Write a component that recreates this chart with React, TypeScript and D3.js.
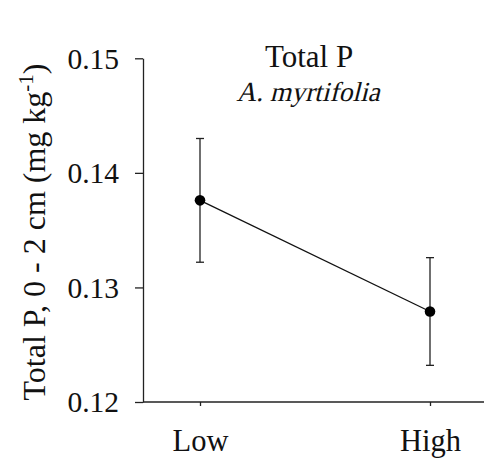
import * as d3 from 'd3';
import React, { useEffect, useRef } from 'react';

// data
const categories = ['Low', 'High'];
const means = [0.1376, 0.1279];
const upper = [0.1430, 0.1326];
const lower = [0.1322, 0.1232];
const yTicks = [0.12, 0.13, 0.14, 0.15];

const W = 484, H = 459;
const FONT = '"Liberation Serif", "Times New Roman", serif';

export default function App() {
  const ref = useRef<SVGSVGElement>(null);

  useEffect(() => {
    const svg = d3.select(ref.current);
    svg.selectAll('*').remove();

    const axisX0 = 143, axisBottom = 402, axisTop = 58.3;

    const x = d3.scalePoint<string>().domain(categories).range([200, 430]);
    const y = d3.scaleLinear().domain([0.12, 0.15]).range([axisBottom, axisTop]);

    const data = categories.map((c, i) => ({ c, m: means[i], hi: upper[i], lo: lower[i] }));

    // y axis
    const yAxis = d3.axisLeft(y).tickValues(yTicks).tickSize(8).tickSizeOuter(0)
      .tickFormat(d3.format('.2f'));
    const gy = svg.append('g').attr('transform', `translate(${axisX0},0)`).call(yAxis);
    gy.select('.domain').attr('stroke', '#222').attr('stroke-width', 1.3);
    gy.selectAll('.tick line').attr('stroke', '#222').attr('stroke-width', 1.3);
    gy.selectAll('.tick text')
      .attr('font-family', FONT).attr('font-size', 29.5).attr('fill', '#111')
      .attr('x', -24).attr('dy', '0.33em');

    // x axis (line runs to the edge)
    svg.append('line')
      .attr('x1', axisX0).attr('x2', W)
      .attr('y1', axisBottom).attr('y2', axisBottom)
      .attr('stroke', '#222').attr('stroke-width', 1.3);
    const xAxis = d3.axisBottom(x).tickSize(4).tickSizeOuter(0);
    const gx = svg.append('g').attr('transform', `translate(0,${axisBottom})`).call(xAxis);
    gx.select('.domain').remove();
    gx.selectAll('.tick line').attr('stroke', '#222').attr('stroke-width', 1.3);
    gx.selectAll('.tick text')
      .attr('font-family', FONT).attr('font-size', 30.5).attr('fill', '#111')
      .attr('y', 27).attr('dy', '0.71em');

    // connecting line
    svg.append('path')
      .datum(data)
      .attr('fill', 'none').attr('stroke', '#111').attr('stroke-width', 1.3)
      .attr('d', d3.line<any>().x(d => x(d.c)!).y(d => y(d.m)));

    // error bars
    const eb = svg.append('g').attr('stroke', '#222').attr('stroke-width', 1.3);
    data.forEach(d => {
      const cx = x(d.c)!;
      eb.append('line').attr('x1', cx).attr('x2', cx).attr('y1', y(d.hi)).attr('y2', y(d.lo));
      eb.append('line').attr('x1', cx - 4).attr('x2', cx + 4).attr('y1', y(d.hi)).attr('y2', y(d.hi));
      eb.append('line').attr('x1', cx - 4).attr('x2', cx + 4).attr('y1', y(d.lo)).attr('y2', y(d.lo));
    });

    // points
    svg.selectAll('circle.pt').data(data).enter().append('circle')
      .attr('class', 'pt')
      .attr('cx', d => x(d.c)!).attr('cy', d => y(d.m)).attr('r', 5.3)
      .attr('fill', '#000');

    // title
    svg.append('text').attr('x', 309).attr('y', 67)
      .attr('text-anchor', 'middle').attr('font-family', FONT).attr('font-size', 31)
      .attr('fill', '#111').text('Total P');
    // italic species name: slanted serif (no serif italic face to rely on)
    svg.append('text')
      .attr('transform', 'translate(308,101) skewX(-14)')
      .attr('text-anchor', 'middle').attr('font-family', FONT).attr('font-size', 27.5)
      .attr('fill', '#111').text('A. myrtifolia');

    // y label
    const yl = svg.append('text')
      .attr('transform', `translate(45,232) rotate(-90)`)
      .attr('text-anchor', 'middle').attr('font-family', FONT).attr('font-size', 32)
      .attr('fill', '#111');
    yl.append('tspan').text('Total P, 0 - 2 cm (mg kg');
    yl.append('tspan').attr('font-size', 21).attr('dy', -12).text('-1');
    yl.append('tspan').attr('dy', 12).text(')');
  }, []);

  return (
    <div style={{ position: 'absolute', left: 0, top: 0 }}>
      <svg ref={ref} width={W} height={H} style={{ background: '#fff', display: 'block' }} />
    </div>
  );
}
